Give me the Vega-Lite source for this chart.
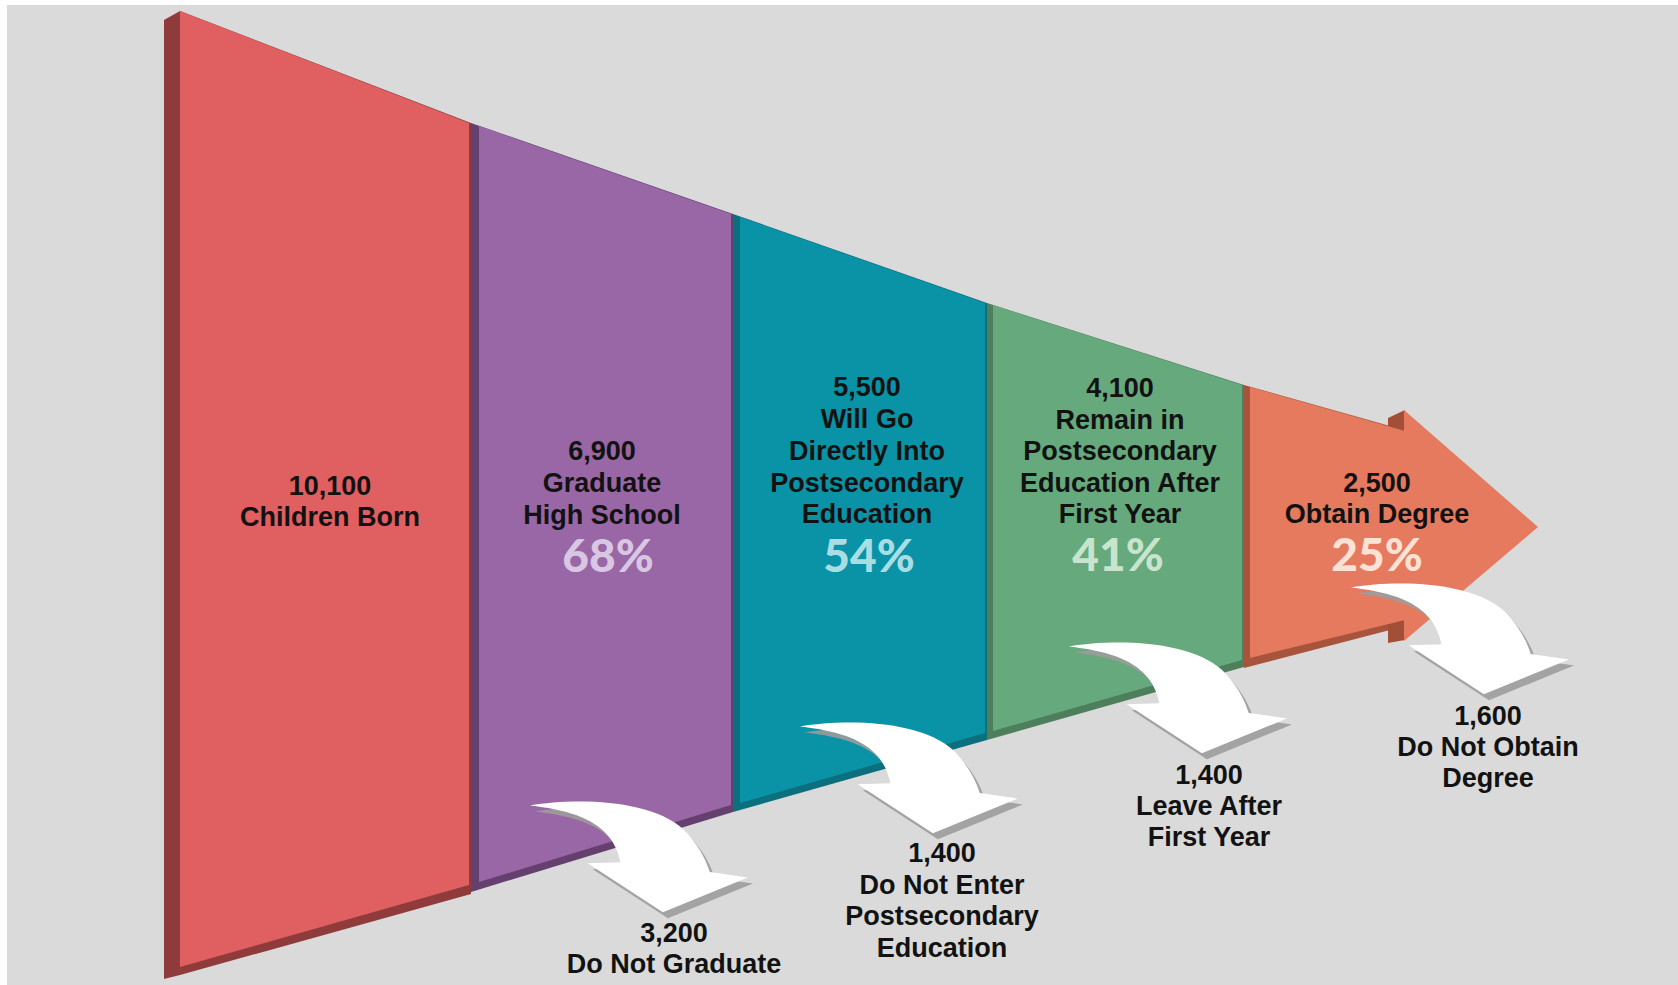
{
  "$schema": "https://vega.github.io/schema/vega-lite/v6.json",
  "width": 1678,
  "height": 985,
  "autosize": {"type": "fit", "contains": "padding"},
  "padding": 0,
  "background": "#dadada",
  "config": {"view": {"stroke": null}},
  "datasets": {
    "border": [
      {"x": 0, "x2": 7, "y": 0, "y2": 985},
      {"x": 0, "x2": 1678, "y": 0, "y2": 5}
    ],
    "shapes": [
      {"part": "side", "k": "red_side", "x": 164, "top": 20, "bot": 979},
      {"part": "side", "k": "red_side", "x": 180, "top": 11, "bot": 975},
      {"part": "side", "k": "red_side", "x": 471, "top": 123, "bot": 894},
      {"part": "side", "k": "purple_side", "x": 471, "top": 123, "bot": 892},
      {"part": "side", "k": "purple_side", "x": 733, "top": 214, "bot": 812},
      {"part": "side", "k": "teal_side", "x": 733, "top": 214, "bot": 812},
      {"part": "side", "k": "teal_side", "x": 987, "top": 303, "bot": 740},
      {"part": "side", "k": "green_side", "x": 987, "top": 303, "bot": 740},
      {"part": "side", "k": "green_side", "x": 1244, "top": 385, "bot": 667},
      {"part": "side", "k": "orange_side", "x": 1244, "top": 385, "bot": 668},
      {"part": "side", "k": "orange_side", "x": 1390, "top": 426, "bot": 630},
      {"part": "side", "k": "barb", "x": 1388, "top": 418, "bot": 643},
      {"part": "side", "k": "barb", "x": 1405, "top": 410, "bot": 640},
      {"part": "front", "k": "red", "x": 180, "top": 11, "bot": 967},
      {"part": "front", "k": "red", "x": 469, "top": 123, "bot": 885},
      {"part": "front", "k": "purple", "x": 479, "top": 126, "bot": 882},
      {"part": "front", "k": "purple", "x": 731, "top": 214, "bot": 805},
      {"part": "front", "k": "teal", "x": 740, "top": 217, "bot": 803},
      {"part": "front", "k": "teal", "x": 985, "top": 303, "bot": 733},
      {"part": "front", "k": "green", "x": 993, "top": 305, "bot": 731},
      {"part": "front", "k": "green", "x": 1242, "top": 385, "bot": 660},
      {"part": "front", "k": "orange", "x": 1250, "top": 387, "bot": 658},
      {"part": "front", "k": "orange", "x": 1405, "top": 431, "bot": 620},
      {"part": "front", "k": "head", "x": 1404, "top": 410, "bot": 641},
      {"part": "front", "k": "head", "x": 1538, "top": 527, "bot": 527}
    ],
    "arrows": [
      {"name": "Do Not Graduate", "x": 640, "y": 860},
      {"name": "Do Not Enter", "x": 910, "y": 781},
      {"name": "Leave After First Year", "x": 1179, "y": 701},
      {"name": "Do Not Obtain Degree", "x": 1461, "y": 642}
    ],
    "main": [
      {"t": "10,100", "x": 330, "y": 487},
      {"t": "Children Born", "x": 330, "y": 518},
      {"t": "6,900", "x": 602, "y": 452},
      {"t": "Graduate", "x": 602, "y": 484},
      {"t": "High School", "x": 602, "y": 516},
      {"t": "5,500", "x": 867, "y": 388},
      {"t": "Will Go", "x": 867, "y": 420},
      {"t": "Directly Into", "x": 867, "y": 452},
      {"t": "Postsecondary", "x": 867, "y": 484},
      {"t": "Education", "x": 867, "y": 515},
      {"t": "4,100", "x": 1120, "y": 389},
      {"t": "Remain in", "x": 1120, "y": 421},
      {"t": "Postsecondary", "x": 1120, "y": 452},
      {"t": "Education After", "x": 1120, "y": 484},
      {"t": "First Year", "x": 1120, "y": 515},
      {"t": "2,500", "x": 1377, "y": 484},
      {"t": "Obtain Degree", "x": 1377, "y": 515}
    ],
    "pct": [
      {"t": "68%", "x": 608, "y": 558},
      {"t": "54%", "x": 869, "y": 558},
      {"t": "41%", "x": 1118, "y": 557},
      {"t": "25%", "x": 1377, "y": 557}
    ],
    "bottom": [
      {"t": "3,200", "x": 674, "y": 934},
      {"t": "Do Not Graduate", "x": 674, "y": 965},
      {"t": "1,400", "x": 942, "y": 854},
      {"t": "Do Not Enter", "x": 942, "y": 886},
      {"t": "Postsecondary", "x": 942, "y": 917},
      {"t": "Education", "x": 942, "y": 949},
      {"t": "1,400", "x": 1209, "y": 776},
      {"t": "Leave After", "x": 1209, "y": 807},
      {"t": "First Year", "x": 1209, "y": 838},
      {"t": "1,600", "x": 1488, "y": 717},
      {"t": "Do Not Obtain", "x": 1488, "y": 748},
      {"t": "Degree", "x": 1488, "y": 779}
    ]
  },
  "layer": [
    {
      "data": {"name": "border"},
      "mark": {"type": "rect", "fill": "#ffffff"},
      "encoding": {
        "x": {"field": "x", "type": "quantitative", "scale": {"domain": [0, 1678], "nice": false, "zero": false}, "axis": null},
        "x2": {"field": "x2"},
        "y": {"field": "y", "type": "quantitative", "scale": {"domain": [0, 985], "reverse": true, "nice": false, "zero": false}, "axis": null},
        "y2": {"field": "y2"}
      }
    },
    {
      "data": {"name": "shapes"},
      "transform": [{"filter": "datum.part === 'side'"}],
      "mark": {"type": "area", "interpolate": "linear"},
      "encoding": {
        "x": {"field": "x", "type": "quantitative", "scale": {"domain": [0, 1678], "nice": false, "zero": false}, "axis": null},
        "y": {"field": "top", "type": "quantitative", "scale": {"domain": [0, 985], "reverse": true, "nice": false, "zero": false}, "axis": null, "stack": null},
        "y2": {"field": "bot"},
        "detail": {"field": "k"},
        "color": {
          "field": "k", "type": "nominal", "legend": null,
          "scale": {
            "domain": ["red_side", "purple_side", "teal_side", "green_side", "orange_side", "barb", "red", "purple", "teal", "green", "orange", "head"],
            "range": ["#8f3b3b", "#65406f", "#0c6f7d", "#4d7f5d", "#a8543d", "#a34f38", "#e05f60", "#9966a6", "#0a93a6", "#66a97c", "#e67a5e", "#e67a5e"]
          }
        }
      }
    },
    {
      "data": {"name": "shapes"},
      "transform": [{"filter": "datum.part === 'front'"}],
      "mark": {"type": "area", "interpolate": "linear"},
      "encoding": {
        "x": {"field": "x", "type": "quantitative", "scale": {"domain": [0, 1678], "nice": false, "zero": false}, "axis": null},
        "y": {"field": "top", "type": "quantitative", "scale": {"domain": [0, 985], "reverse": true, "nice": false, "zero": false}, "axis": null, "stack": null},
        "y2": {"field": "bot"},
        "detail": {"field": "k"},
        "color": {
          "field": "k", "type": "nominal", "legend": null,
          "scale": {
            "domain": ["red_side", "purple_side", "teal_side", "green_side", "orange_side", "barb", "red", "purple", "teal", "green", "orange", "head"],
            "range": ["#8f3b3b", "#65406f", "#0c6f7d", "#4d7f5d", "#a8543d", "#a34f38", "#e05f60", "#9966a6", "#0a93a6", "#66a97c", "#e67a5e", "#e67a5e"]
          }
        }
      }
    },
    {
      "data": {"name": "arrows"},
      "mark": {
        "type": "point", "filled": true, "fill": "#9c9c9c", "opacity": 0.9, "strokeWidth": 0,
        "xOffset": 5, "yOffset": 6, "size": 47524,
        "shape": "M -1.01 -0.50 C -0.60 -0.57 0.10 -0.56 0.40 -0.28 C 0.52 -0.16 0.60 -0.02 0.64 0.11 L 0.99 0.16 L 0.21 0.48 L -0.48 0.03 L -0.18 0.02 C -0.22 -0.18 -0.34 -0.32 -0.58 -0.41 C -0.72 -0.46 -0.85 -0.48 -1.01 -0.50 Z"
      },
      "encoding": {
        "x": {"field": "x", "type": "quantitative", "scale": {"domain": [0, 1678], "nice": false, "zero": false}, "axis": null},
        "y": {"field": "y", "type": "quantitative", "scale": {"domain": [0, 985], "reverse": true, "nice": false, "zero": false}, "axis": null}
      }
    },
    {
      "data": {"name": "arrows"},
      "mark": {
        "type": "point", "filled": true, "fill": "#ffffff", "opacity": 1, "strokeWidth": 0, "size": 47524,
        "shape": "M -1.01 -0.50 C -0.60 -0.57 0.10 -0.56 0.40 -0.28 C 0.52 -0.16 0.60 -0.02 0.64 0.11 L 0.99 0.16 L 0.21 0.48 L -0.48 0.03 L -0.18 0.02 C -0.22 -0.18 -0.34 -0.32 -0.58 -0.41 C -0.72 -0.46 -0.85 -0.48 -1.01 -0.50 Z"
      },
      "encoding": {
        "x": {"field": "x", "type": "quantitative", "scale": {"domain": [0, 1678], "nice": false, "zero": false}, "axis": null},
        "y": {"field": "y", "type": "quantitative", "scale": {"domain": [0, 985], "reverse": true, "nice": false, "zero": false}, "axis": null}
      }
    },
    {
      "data": {"name": "main"},
      "mark": {"type": "text", "font": "Liberation Sans", "fontWeight": "bold", "fontSize": 27, "align": "center", "baseline": "middle", "fill": "#121212"},
      "encoding": {
        "x": {"field": "x", "type": "quantitative", "scale": {"domain": [0, 1678], "nice": false, "zero": false}, "axis": null},
        "y": {"field": "y", "type": "quantitative", "scale": {"domain": [0, 985], "reverse": true, "nice": false, "zero": false}, "axis": null},
        "text": {"field": "t"}
      }
    },
    {
      "data": {"name": "pct"},
      "mark": {"type": "text", "font": "Lato", "fontWeight": 900, "fontSize": 46, "align": "center", "baseline": "middle"},
      "encoding": {
        "x": {"field": "x", "type": "quantitative", "scale": {"domain": [0, 1678], "nice": false, "zero": false}, "axis": null},
        "y": {"field": "y", "type": "quantitative", "scale": {"domain": [0, 985], "reverse": true, "nice": false, "zero": false}, "axis": null},
        "text": {"field": "t"},
        "color": {
          "field": "t", "type": "nominal", "legend": null,
          "scale": {"domain": ["68%", "54%", "41%", "25%"], "range": ["#d9c6e3", "#a9dde3", "#c9e4cd", "#fbe2d6"]}
        }
      }
    },
    {
      "data": {"name": "bottom"},
      "mark": {"type": "text", "font": "Liberation Sans", "fontWeight": "bold", "fontSize": 27, "align": "center", "baseline": "middle", "fill": "#121212"},
      "encoding": {
        "x": {"field": "x", "type": "quantitative", "scale": {"domain": [0, 1678], "nice": false, "zero": false}, "axis": null},
        "y": {"field": "y", "type": "quantitative", "scale": {"domain": [0, 985], "reverse": true, "nice": false, "zero": false}, "axis": null},
        "text": {"field": "t"}
      }
    }
  ],
  "resolve": {"scale": {"color": "independent"}}
}
